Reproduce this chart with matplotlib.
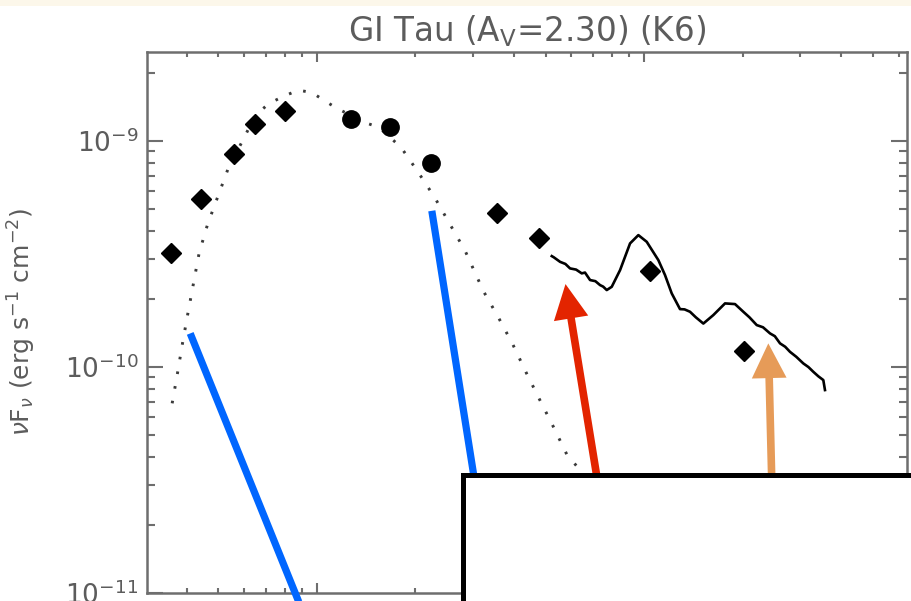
import matplotlib
matplotlib.use('Agg')
import matplotlib.pyplot as plt
from matplotlib.patches import Rectangle

# ---- data (wavelength in micron, nuFnu in erg s^-1 cm^-2) ----
diamond_wave = [0.359, 0.441, 0.557, 0.646, 0.797, 3.563, 4.777, 10.45, 20.17]
diamond_flux = [3.21e-10, 5.56e-10, 8.80e-10, 1.19e-9, 1.36e-9, 4.79e-10, 3.73e-10, 2.66e-10, 1.18e-10]

circle_wave = [1.268, 1.675, 2.230]
circle_flux = [1.256e-9, 1.150e-9, 8.04e-10]

model_wave = [0.3613, 0.3750, 0.3885, 0.4035, 0.4369, 0.4635, 0.5001, 0.5381, 0.5944,
              0.6489, 0.7148, 0.7955, 0.8787, 0.9661, 1.0564, 1.1535, 1.4104, 1.5500,
              1.8093, 2.0370, 2.2922, 2.5510, 2.8391, 3.2285, 3.5877, 3.9711, 4.3606,
              4.7863, 5.2841, 5.8048, 6.839]
model_flux = [6.91e-11, 9.38e-11, 1.273e-10, 1.728e-10, 3.204e-10, 4.28e-10, 5.77e-10, 7.69e-10,
              1.010e-9, 1.303e-9, 1.468e-9, 1.586e-9, 1.680e-9, 1.641e-9, 1.508e-9, 1.395e-9,
              1.205e-9, 1.150e-9, 9.38e-10, 7.31e-10, 5.63e-10, 4.29e-10, 3.27e-10, 2.169e-10,
              1.659e-10, 1.260e-10, 9.47e-11, 7.22e-11, 5.44e-11, 4.11e-11, 3.10e-11]

spec_wave = [5.224, 5.30, 5.539, 5.75, 5.941, 6.20, 6.451, 6.60, 6.840, 7.10, 7.337, 7.50,
             7.692, 7.967, 8.448, 9.063, 9.608, 10.19, 11.06, 11.59, 12.15, 12.88, 13.30,
             13.82, 14.40, 15.18, 16.28, 17.68, 18.97, 20.11, 21.00, 22.10, 23.10, 24.27,
             25.10, 26.04, 27.00, 27.93, 29.20, 30.67, 31.80, 32.91, 34.10, 35.31, 35.73]
spec_flux = [3.098e-10, 3.06e-10, 2.922e-10, 2.86e-10, 2.733e-10, 2.70e-10, 2.598e-10, 2.62e-10,
             2.427e-10, 2.40e-10, 2.306e-10, 2.27e-10, 2.192e-10, 2.266e-10, 2.686e-10,
             3.526e-10, 3.837e-10, 3.585e-10, 2.974e-10, 2.554e-10, 2.119e-10, 1.805e-10,
             1.80e-10, 1.757e-10, 1.66e-10, 1.558e-10, 1.698e-10, 1.913e-10, 1.900e-10,
             1.757e-10, 1.66e-10, 1.534e-10, 1.50e-10, 1.409e-10, 1.37e-10, 1.273e-10,
             1.23e-10, 1.168e-10, 1.11e-10, 1.038e-10, 1.00e-10, 9.53e-11, 9.10e-11,
             8.76e-11, 7.91e-11]

blue1_wave = [0.4102, 0.9539]
blue1_flux = [1.409e-10, 6.86e-12]
blue2_wave = [2.246, 3.067]
blue2_flux = [4.915e-10, 2.856e-11]

red_arrow_tip = (5.754, 2.330e-10)
red_arrow_tail = (7.285, 2.856e-11)
orange_arrow_tip = (23.98, 1.273e-10)
orange_arrow_tail = (24.61, 2.856e-11)

title = r'GI Tau (A$_\mathregular{V}$=2.30) (K6)'
ylabel = r'$\nu$F$_\nu$ (erg s$^{-1}$ cm$^{-2}$)'

# ---- figure ----
W, H = 911, 601
plt.rcParams['font.family'] = ['DejaVu Sans']
plt.rcParams['mathtext.fontset'] = 'dejavusans'
fig = plt.figure(figsize=(W / 100, H / 100), dpi=100)
fig.patch.set_facecolor('white')

ax = fig.add_axes([146.7 / W, 8 / H, 760 / W, 541 / H])
ax.set_xscale('log')
ax.set_yscale('log')
ax.set_xlim(0.302, 63.5)
ax.set_ylim(1e-11, 2.48e-9)

axcol = '#6e6e6e'
for s in ax.spines.values():
    s.set_color(axcol)
    s.set_linewidth(1.8)
ax.tick_params(which='both', direction='in', top=True, right=True, color=axcol,
               labelbottom=False, labelcolor='#5c5c5c', labelsize=19, width=1.5)
ax.tick_params(axis='x', which='major', length=7.2)
ax.tick_params(axis='x', which='minor', length=3.6)
ax.tick_params(axis='y', which='major', length=11.5, pad=6)
ax.tick_params(axis='y', which='minor', length=5.8)

ax.plot(model_wave, model_flux, color='#3a3a3a', lw=2.1, linestyle=(0, (0.9, 4.2)), zorder=2)
ax.plot(spec_wave, spec_flux, color='black', lw=1.9, zorder=3)
ax.plot(diamond_wave, diamond_flux, 'D', ms=10.5, color='black', ls='none', zorder=4)
ax.plot(circle_wave, circle_flux, 'o', ms=12.5, color='black', ls='none', zorder=4)

ax.plot(blue1_wave, blue1_flux, color='#0066ff', lw=5.2, solid_capstyle='butt', clip_on=False, zorder=5)
ax.plot(blue2_wave, blue2_flux, color='#0066ff', lw=5.2, solid_capstyle='butt', clip_on=False, zorder=5)

for tip, tail, col in [(red_arrow_tip, red_arrow_tail, '#e32400'),
                       (orange_arrow_tip, orange_arrow_tail, '#e69b58')]:
    ax.annotate('', xy=tip, xytext=tail, annotation_clip=False, zorder=6,
                arrowprops=dict(arrowstyle='simple,head_length=1.0,head_width=1.0,tail_width=0.22',
                                mutation_scale=25, color=col, lw=0, shrinkA=0, shrinkB=0))

# blank box overlay
fig.add_artist(Rectangle((463.2 / W, -0.2), 1.0, (H - 474.8) / H + 0.2, transform=fig.transFigure,
                         facecolor='white', edgecolor='black', linewidth=3.6, zorder=10))
# top cream strip
fig.add_artist(Rectangle((0, 1 - 6 / H), 1, 6 / H, transform=fig.transFigure,
                         facecolor='#fcf7ea', edgecolor='none', zorder=10))

fig.text(526.7 / W, 1 - 31 / H, title, ha='center', va='center', fontsize=23.5, color='#5c5c5c')
fig.text(22 / W, 1 - 321.5 / H, ylabel, ha='center', va='center', rotation=90, fontsize=18, color='#5c5c5c')

fig.savefig('out.png', dpi=100)
